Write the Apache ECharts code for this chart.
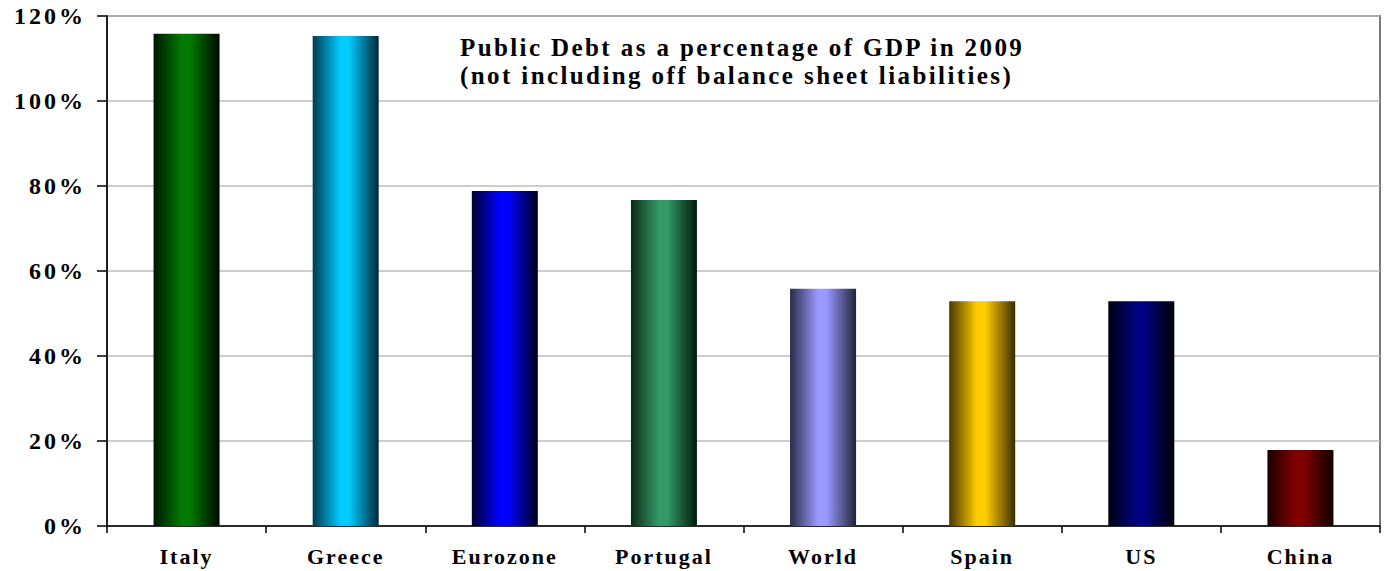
<!DOCTYPE html>
<html>
<head>
<meta charset="utf-8">
<script src="https://cdn.jsdelivr.net/npm/echarts@6/dist/echarts.min.js"></script>
<style>
  html, body { margin: 0; padding: 0; background: #ffffff; }
  #main { width: 1385px; height: 571px; }
  #main text[style*="24px"] { letter-spacing: 3px; }
  #main text[style*="22px"] { letter-spacing: 2px; }
  #main text[style*="25px"] { letter-spacing: 2.4px; }
</style>
</head>
<body>
<div id="main"></div>
<script>
const categories = ['Italy', 'Greece', 'Eurozone', 'Portugal', 'World', 'Spain', 'US', 'China'];
const debtPct = [115.8, 115.3, 78.8, 76.7, 55.8, 52.9, 52.9, 17.9];
const yTicks = [0, 20, 40, 60, 80, 100, 120];
const titleLines = ['Public Debt as a percentage of GDP in 2009', '(not including off balance sheet liabilities)'];
// gradient colours per bar: [left edge, centre highlight, right edge]
const barColors = [
  ['#001400', '#007a00', '#000800'],
  ['#003a50', '#00ccff', '#00283a'],
  ['#000030', '#0000ff', '#000018'],
  ['#0a2a18', '#339966', '#001a0a'],
  ['#2a2a48', '#9999ff', '#22223a'],
  ['#4a3800', '#ffcc00', '#3a2c00'],
  ['#000010', '#000080', '#000008'],
  ['#1a0000', '#800000', '#100000']
];

const FONT = "'Liberation Serif', 'Times New Roman', serif";

const seriesData = debtPct.map((v, i) => ({
  value: v,
  itemStyle: {
    color: new echarts.graphic.LinearGradient(0, 0, 1, 0, [
      { offset: 0, color: barColors[i][0] },
      { offset: 0.42, color: barColors[i][1] },
      { offset: 0.55, color: barColors[i][1] },
      { offset: 1, color: barColors[i][2] }
    ])
  }
}));

const chart = echarts.init(document.getElementById('main'), null, { renderer: 'svg' });
chart.setOption({
  animation: false,
  backgroundColor: '#ffffff',
  grid: {
    left: 107, right: 5, top: 16, bottom: 45,
    show: true, borderColor: '#7a7a7a', borderWidth: 2, backgroundColor: 'transparent'
  },
  xAxis: {
    type: 'category',
    data: categories,
    boundaryGap: true,
    axisLine: { lineStyle: { color: '#000000', width: 1.5 } },
    axisTick: { show: true, length: 7, lineStyle: { color: '#000000', width: 1.5 } },
    axisLabel: {
      margin: 19, color: '#000000', fontFamily: FONT, fontWeight: 'bold', fontSize: 22
    }
  },
  yAxis: {
    type: 'value',
    min: yTicks[0],
    max: yTicks[yTicks.length - 1],
    interval: yTicks[1] - yTicks[0],
    axisLine: { show: true, lineStyle: { color: '#000000', width: 1.5 } },
    axisTick: { show: true, length: 10, lineStyle: { color: '#000000', width: 1.5 } },
    splitLine: { lineStyle: { color: '#bdbdbd', width: 1.5 } },
    axisLabel: {
      margin: 21, color: '#000000', fontFamily: FONT, fontWeight: 'bold', fontSize: 24,
      formatter: '{value}%'
    }
  },
  graphic: [{
    type: 'text',
    left: 460,
    top: 33,
    style: {
      text: titleLines.join('\n'),
      font: "bold 25px " + FONT,
      fill: '#000000',
      align: 'center',
      lineHeight: 28,
      width: 600
    }
  }],
  series: [{
    type: 'bar',
    data: seriesData,
    barWidth: 66
  }]
});
</script>
</body>
</html>
